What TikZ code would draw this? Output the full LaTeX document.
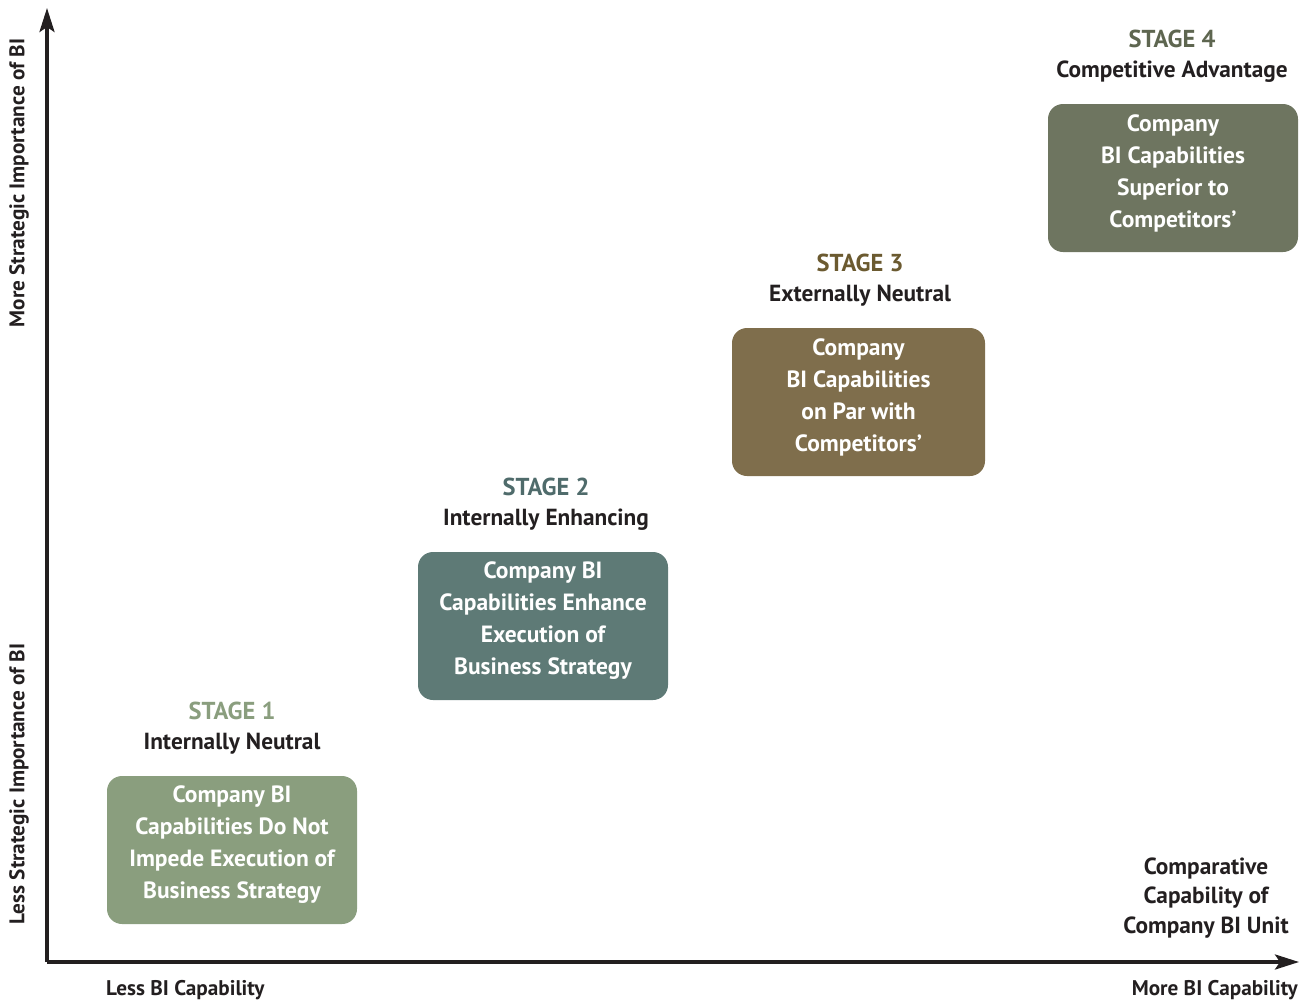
\documentclass[tikz,border=0pt]{standalone}
\usepackage{fontspec}
\setmainfont{PT Sans}
\usetikzlibrary{arrows.meta}
\definecolor{sone}{HTML}{8A9E7E}
\definecolor{sonel}{HTML}{8A9E7E}
\definecolor{stwo}{HTML}{5E7A76}
\definecolor{stwol}{HTML}{4F6B6B}
\definecolor{sthree}{HTML}{7F6E4C}
\definecolor{sthreel}{HTML}{6B5A30}
\definecolor{sfour}{HTML}{6E7560}
\definecolor{sfourl}{HTML}{5E6650}
\definecolor{ink}{HTML}{231F20}
\begin{document}
\begin{tikzpicture}[x=1pt,y=-1pt,
  txt/.style={font=\bfseries\fontsize{23.3}{32}\selectfont, inner sep=0pt, align=center},
  stagelbl/.style={font=\bfseries\fontsize{24.5}{32}\selectfont, inner sep=0pt, align=center},
  stagebox/.style={rounded corners=15pt, minimum width=250pt, minimum height=148pt, inner sep=0pt},
  boxtext/.style={text=white, align=center, inner sep=0pt, font=\bfseries\fontsize{23.5}{32}\selectfont},
  axislbl/.style={font=\bfseries\fontsize{21.2}{30}\selectfont, inner sep=0pt, text=ink},
  axis/.style={draw=ink, line width=3.5pt, -{Stealth[length=24pt,width=15pt,inset=5pt]}}
]
\useasboundingbox (0,0) rectangle (1309,1004);
% axes
\coordinate (origin) at (47,962);
\coordinate (ytip) at (47,8);
\coordinate (xtip) at (1299,962);
\draw[axis] (origin) -- (ytip);
\draw[axis] (origin) -- (xtip);

% y labels
\node[axislbl, rotate=90] (ymore) at (19,183) {More Strategic Importance of BI};
\node[axislbl, rotate=90] (yless) at (19,784) {Less Strategic Importance of BI};
% x labels
\node[axislbl, anchor=west] (xless) at (106,990) {Less BI Capability};
\node[axislbl, anchor=east] (xmore) at (1298,990) {More BI Capability};
\node[txt, text=ink, font=\bfseries\fontsize{23.3}{29.5}\selectfont] (xtitle) at (1206,898) {Comparative\\Capability of\\Company BI Unit};

% stage 1
\node[stagelbl, text=sonel] (s1t) at (232,711) {STAGE 1};
\node[txt, text=ink] (s1s) at (232,744) {Internally Neutral};
\node[stagebox, fill=sone] (s1) at (232,850) {};
\node[boxtext] (s1x) at ([yshift=5pt]s1.center) {Company BI\\Capabilities Do Not\\Impede Execution of\\Business Strategy};

% stage 2
\node[stagelbl, text=stwol] (s2t) at (546,487) {STAGE 2};
\node[txt, text=ink] (s2s) at (546,520) {Internally Enhancing};
\node[stagebox, fill=stwo] (s2) at (543,626) {};
\node[boxtext] (s2x) at ([yshift=5pt]s2.center) {Company BI\\Capabilities Enhance\\Execution of\\Business Strategy};

% stage 3
\node[stagelbl, text=sthreel] (s3t) at (860,263) {STAGE 3};
\node[txt, text=ink] (s3s) at (860,296) {Externally Neutral};
\node[stagebox, fill=sthree, minimum width=253pt] (s3) at (858.5,402) {};
\node[boxtext] (s3x) at ([yshift=5pt]s3.center) {Company\\BI Capabilities\\on Par with\\Competitors'};

% stage 4
\node[stagelbl, text=sfourl] (s4t) at (1172,39) {STAGE 4};
\node[txt, text=ink] (s4s) at (1172,72) {Competitive Advantage};
\node[stagebox, fill=sfour] (s4) at (1173,178) {};
\node[boxtext] (s4x) at ([yshift=5pt]s4.center) {Company\\BI Capabilities\\Superior to\\Competitors'};
\end{tikzpicture}
\end{document}
